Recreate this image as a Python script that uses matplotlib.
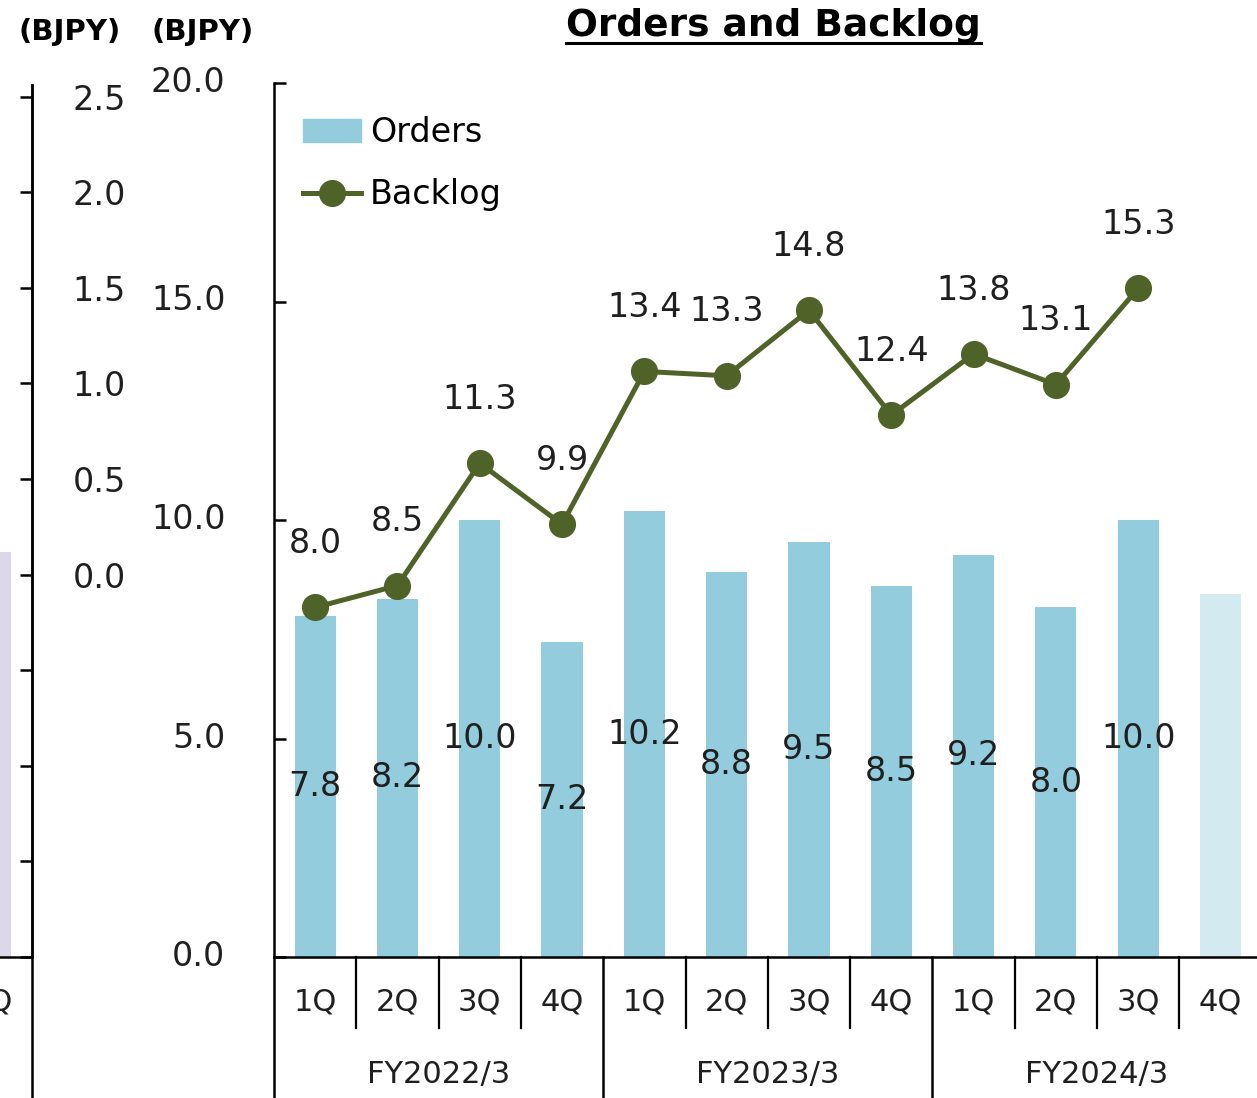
import matplotlib
matplotlib.use('Agg')
import matplotlib.pyplot as plt
import matplotlib.transforms as mtransforms
from matplotlib.lines import Line2D
from matplotlib.patches import Patch

# Data
quarters = ['1Q', '2Q', '3Q', '4Q'] * 3
fiscal_years = ['FY2022/3', 'FY2023/3', 'FY2024/3']
orders = [7.8, 8.2, 10.0, 7.2, 10.2, 8.8, 9.5, 8.5, 9.2, 8.0, 10.0]
orders_outlook = 8.3          # FY2024/3 4Q, pale bar without label
backlog = [8.0, 8.5, 11.3, 9.9, 13.4, 13.3, 14.8, 12.4, 13.8, 13.1, 15.3]
main_yticks = [0, 5, 10, 15, 20]
left_bar = 9.3                # cut-off bar of the neighbouring chart
left_yticks = [-2.0, -1.5, -1.0, -0.5, 0.0, 0.5, 1.0, 1.5, 2.0, 2.5]

BAR = '#93CDDD'
BAR_LIGHT = '#D3EAF0'
LINE = '#4F6228'
TXT = '#1f1f1f'

W, H = 1257, 1098
fig = plt.figure(figsize=(W / 100, H / 100), dpi=100)


def px_axes(x0, y0, x1, y1):
    # box in pixels, y measured from the top
    return fig.add_axes([x0 / W, 1 - y1 / H, (x1 - x0) / W, (y1 - y0) / H])


def fig_line(x0, y0, x1, y1, lw=1.8):
    fig.add_artist(Line2D([x0 / W, x1 / W], [1 - y0 / H, 1 - y1 / H],
                          transform=fig.transFigure, color='black', lw=lw))


# ---- main chart ----
cat_w = 82.3
x0_main, y_top, y_zero = 274, 83, 957
ax = px_axes(x0_main, y_top, x0_main + 12 * cat_w, y_zero)
x = list(range(12))

ax.bar(x[:11], orders, width=0.5, color=BAR, zorder=2)
ax.bar(11, orders_outlook, width=0.5, color=BAR_LIGHT, zorder=2)
ax.plot(x[:11], backlog, color=LINE, lw=3.6, marker='o', ms=18.5, zorder=3)

for i, v in enumerate(orders):
    ax.text(i, v / 2, f'{v:.1f}', ha='center', va='center', fontsize=24, color=TXT, zorder=4)
for i, v in enumerate(backlog):
    ax.annotate(f'{v:.1f}', (i, v), xytext=(0, 46), textcoords='offset points',
                ha='center', va='center', fontsize=24, color=TXT, zorder=4)

ax.set_xlim(-0.5, 11.5)
ax.set_ylim(0, 20)
ax.set_xticks([])
ax.set_yticks(main_yticks)
ax.set_yticklabels([f'{t:.1f}' for t in main_yticks])
ax.tick_params(axis='y', direction='in', length=8.6, width=1.8, pad=35,
               labelsize=24, labelcolor=TXT)
# the slide puts these labels a few pixels above their ticks
lift = mtransforms.ScaledTranslation(0, 4 / 100, fig.dpi_scale_trans)
for lab in ax.get_yticklabels():
    lab.set_transform(lab.get_transform() + lift)
for s in ['top', 'right']:
    ax.spines[s].set_visible(False)
for s in ['left', 'bottom']:
    ax.spines[s].set_linewidth(1.8)

# category separators and labels below the axis
trans = ax.get_xaxis_transform()
h_ax = y_zero - y_top
for k in range(13):
    xb = k - 0.5
    y_end = (y_zero - 1110) / h_ax if k % 4 == 0 else (y_zero - 1028) / h_ax
    ax.plot([xb, xb], [0, y_end], transform=trans, clip_on=False,
            color='black', lw=1.6 if k % 4 else 1.8)
for i, q in enumerate(quarters):
    ax.text(i, (y_zero - 1002) / h_ax, q, transform=trans, ha='center',
            va='center', fontsize=22, color=TXT)
for g, fy in enumerate(fiscal_years):
    ax.text(4 * g + 1.5, (y_zero - 1075) / h_ax, fy, transform=trans,
            ha='center', va='center', fontsize=22, color=TXT)

handles = [Patch(color=BAR),
           Line2D([], [], color=LINE, lw=3.6, marker='o', ms=18.5)]
ax.legend(handles, ['Orders', 'Backlog'], loc='upper left',
          bbox_to_anchor=(303 / W, 1 - 116 / H), bbox_transform=fig.transFigure,
          frameon=False, fontsize=24, handlelength=1.75, handletextpad=0.25,
          labelspacing=0.88, borderpad=0, borderaxespad=0)

# ---- neighbouring chart, cut off at the left edge ----
ax0 = px_axes(32 - cat_w, 85, 32, y_zero)
ax0.bar(0, left_bar, width=0.5, color='#DDD8E9')
ax0.set_xlim(-0.5, 0.5)
ax0.set_ylim(0, 20)
ax0.set_xticks([])
ax0.set_yticks([])
for s in ['top', 'left']:
    ax0.spines[s].set_visible(False)
for s in ['right', 'bottom']:
    ax0.spines[s].set_linewidth(1.8)
ax0.text(0, (y_zero - 1002) / (y_zero - 85), '4Q', transform=ax0.get_xaxis_transform(),
         ha='center', va='center', fontsize=22, color=TXT)

axr = ax0.twinx()
axr.set_ylim(-2.0, -2.0 + (y_zero - 85) / 191.2)
axr.set_yticks(left_yticks)
axr.set_yticklabels([f'{t:.1f}' if t >= 0 else '' for t in left_yticks])
axr.tick_params(axis='y', direction='in', length=8.6, width=1.8, pad=29,
                labelsize=24, labelcolor=TXT)
for s in ['top', 'left', 'bottom']:
    axr.spines[s].set_visible(False)
axr.spines['right'].set_linewidth(1.8)
fig_line(32, y_zero, 32, H + 5)

# ---- titles ----
title = fig.text(773.5 / W, 1 - 26 / H, 'Orders and Backlog', ha='center',
                 va='center', fontsize=27, fontweight='bold', color='black')
fig.text(70 / W, 1 - 32 / H, '(BJPY)', ha='center', va='center',
         fontsize=21, fontweight='bold', color='black')
fig.text(203 / W, 1 - 32 / H, '(BJPY)', ha='center', va='center',
         fontsize=21, fontweight='bold', color='black')

fig.canvas.draw()
bb = title.get_window_extent()
fig_line(bb.x0, 43, bb.x1, 43, lw=2.2)

fig.savefig('out.png', dpi=100)
